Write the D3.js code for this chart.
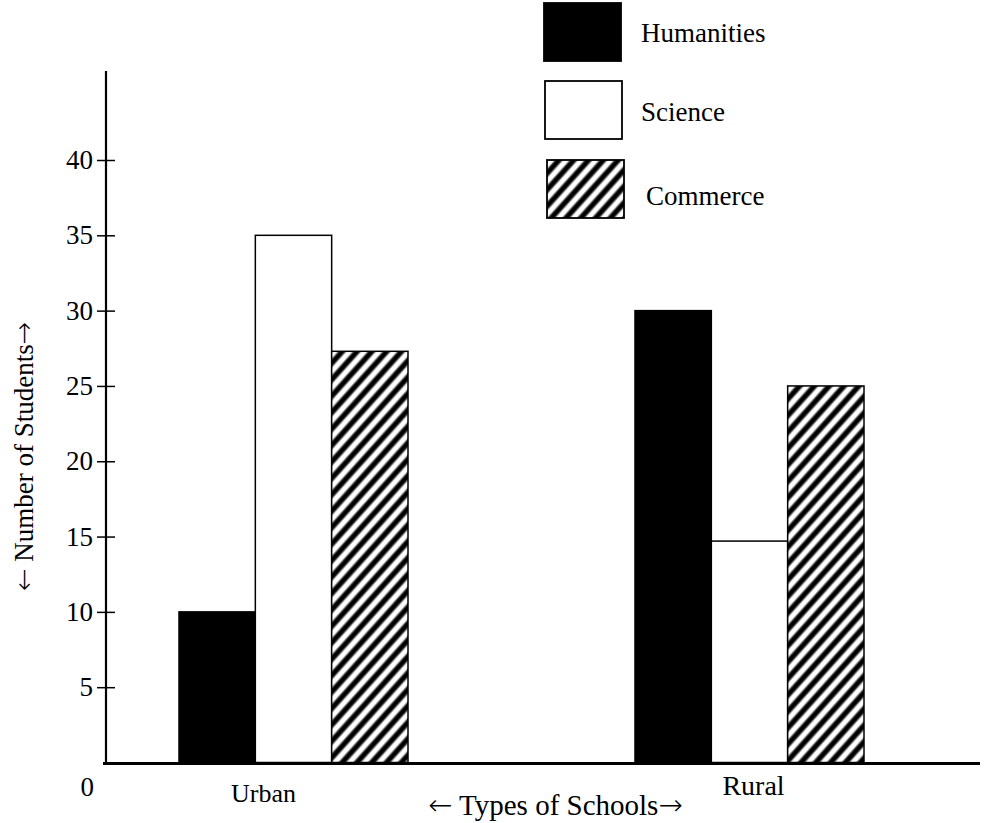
<!DOCTYPE html>
<meta charset="utf-8">
<body style="margin:0; background:#fff;">
<script src="https://d3js.org/d3.v7.min.js"></script>
<svg id="chart" width="993" height="823"></svg>
<script>
// data
var schools = ["Urban", "Rural"];
var streams = ["Humanities", "Science", "Commerce"];
var humanities = [10, 30];
var science = [35, 14.7];
var commerce = [27.3, 25];
var yTicks = [5, 10, 15, 20, 25, 30, 35, 40];

var svg = d3.select("#chart");
var font = "'Liberation Serif', 'Times New Roman', serif";
var arrowFont = "'DejaVu Sans', sans-serif";

// stripe pattern for commerce
var defs = svg.append("defs");
var pat = defs.append("pattern")
    .attr("id", "hatch")
    .attr("patternUnits", "userSpaceOnUse")
    .attr("width", 11).attr("height", 11)
    .attr("patternTransform", "rotate(42)");
pat.append("rect").attr("width", 11).attr("height", 11).attr("fill", "#fff");
pat.append("rect").attr("x", 2.2).attr("width", 6.6).attr("height", 11).attr("fill", "#888");
pat.append("rect").attr("x", 3.3).attr("width", 4.4).attr("height", 11).attr("fill", "#000");

var y = d3.scaleLinear().domain([0, 40]).range([762.5, 160]);

var x0 = d3.scaleBand().domain(schools).range([179, 864]).paddingInner(0.4978).paddingOuter(0);
var x1 = d3.scaleBand().domain(streams).range([0, x0.bandwidth()]);

var fills = { Humanities: "#000", Science: "#fff", Commerce: "url(#hatch)" };
var values = { Humanities: humanities, Science: science, Commerce: commerce };

var rows = [];
schools.forEach(function(s, i) {
  streams.forEach(function(k) {
    rows.push({ school: s, stream: k, value: values[k][i] });
  });
});

// bars
svg.append("g").selectAll("rect")
  .data(rows)
  .enter().append("rect")
    .attr("x", function(d) { return x0(d.school) + x1(d.stream); })
    .attr("y", function(d) { return y(d.value); })
    .attr("width", x1.bandwidth())
    .attr("height", function(d) { return y(0) - y(d.value); })
    .attr("fill", function(d) { return fills[d.stream]; })
    .attr("stroke", "#000")
    .attr("stroke-width", 1.5);

// y axis
var yAxis = svg.append("g")
    .attr("transform", "translate(106,0)")
    .call(d3.axisLeft(y).tickValues(yTicks).tickSize(9).tickPadding(2));
yAxis.select(".domain").remove();
yAxis.selectAll(".tick line").attr("x2", 9).attr("x1", -9).attr("stroke", "#000").attr("stroke-width", 1.5);
yAxis.selectAll(".tick text")
    .attr("x", -13)
    .style("font-family", font).style("font-size", "27px").attr("fill", "#000");

svg.append("line")
    .attr("x1", 106).attr("x2", 106)
    .attr("y1", 71).attr("y2", y(0))
    .attr("stroke", "#000").attr("stroke-width", 2.2);

svg.append("line")
    .attr("x1", 103).attr("x2", 980)
    .attr("y1", y(0) + 1).attr("y2", y(0) + 1)
    .attr("stroke", "#000").attr("stroke-width", 3);

svg.append("text")
    .attr("x", 94).attr("y", 796)
    .attr("text-anchor", "end")
    .style("font-family", font).style("font-size", "27px")
    .text("0");

// category labels
var labelShift = { Urban: -30, Rural: 4 };
var labelY = { Urban: 802, Rural: 795 };
var labelSize = { Urban: "26px", Rural: "28px" };
svg.append("g").selectAll("text")
  .data(schools)
  .enter().append("text")
    .attr("x", function(d) { return x0(d) + x0.bandwidth() / 2 + labelShift[d]; })
    .attr("y", function(d) { return labelY[d]; })
    .attr("text-anchor", "middle")
    .style("font-family", font).style("font-size", function(d) { return labelSize[d]; })
    .text(function(d) { return d; });

// axis titles, arrows set in a font with wider arrow glyphs
function arrowTitle(sel, label, size) {
  sel.style("font-family", font).style("font-size", size);
  sel.append("tspan").style("font-family", arrowFont).style("font-weight", "200").text("\u2190");
  sel.append("tspan").text(" " + label);
  sel.append("tspan").style("font-family", arrowFont).style("font-weight", "200").text("\u2192");
}

svg.append("text")
    .attr("x", 428).attr("y", 815)
    .call(arrowTitle, "Types of Schools", "29px");

svg.append("text")
    .attr("transform", "translate(33,591) rotate(-90)")
    .call(arrowTitle, "Number of Students", "27px");

// legend
var legendBox = [
  { name: "Humanities", x: 544, y: 3, tx: 641, ty: 42 },
  { name: "Science", x: 545, y: 81, tx: 641, ty: 121 },
  { name: "Commerce", x: 547, y: 160, tx: 646, ty: 205 }
];
var lg = svg.append("g").selectAll("g").data(legendBox).enter().append("g");
lg.append("rect")
    .attr("x", function(d) { return d.x; })
    .attr("y", function(d) { return d.y; })
    .attr("width", 77).attr("height", 58)
    .attr("fill", function(d) { return fills[d.name]; })
    .attr("stroke", "#000").attr("stroke-width", 1.8);
lg.append("text")
    .attr("x", function(d) { return d.tx; })
    .attr("y", function(d) { return d.ty; })
    .style("font-family", font).style("font-size", "27px")
    .text(function(d) { return d.name; });
</script>
</body>
